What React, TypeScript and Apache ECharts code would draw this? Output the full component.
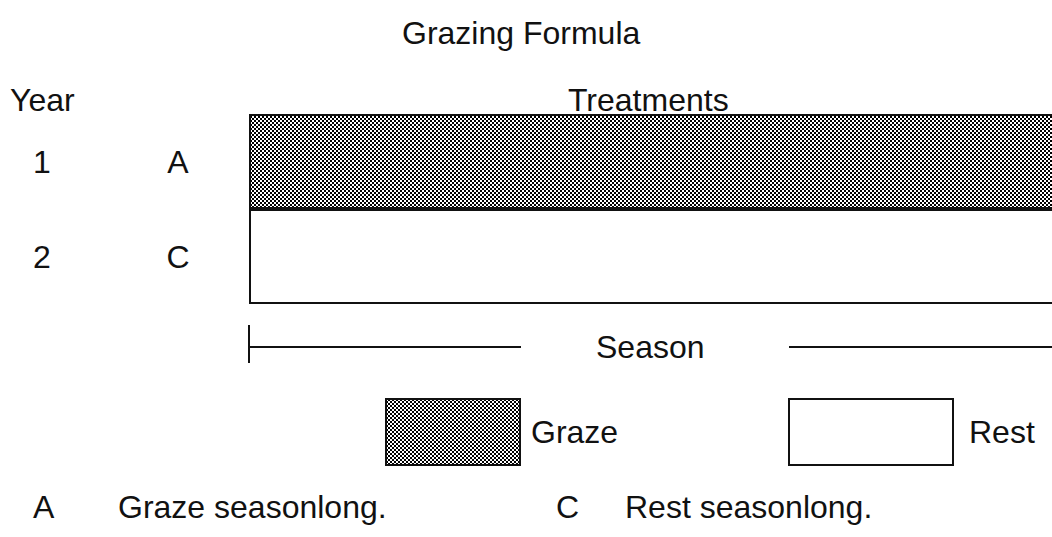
import React, { useEffect, useRef } from "react";
import * as echarts from "echarts";

const years = ["1", "2"];
const treatments = ["A", "C"];
const grazeValues: (number | string)[] = [1, "-"];
const restValues: (number | string)[] = ["-", 1];
const seasonMin = 0;
const seasonMax = 1;
const notesLeft = ["A", "Graze seasonlong."];
const notesRight = ["C", "Rest seasonlong."];

const FONT = "Liberation Sans, Arial, Helvetica, sans-serif";
const INK = "#111";

const grazeDecal = {
  symbol: "rect",
  symbolSize: 1,
  color: "#000",
  dashArrayX: [[1.5, 1.5], [0, 1.5, 1.5, 0]],
  dashArrayY: [1.5, 0],
};

export default function App() {
  const ref = useRef<HTMLDivElement>(null);
  useEffect(() => {
    document.body.style.margin = "0";
    const chart = echarts.init(ref.current!, null, { renderer: "svg" });
    const txt = { fontFamily: FONT, fontSize: 32, color: INK, fontWeight: "normal" as const };
    chart.setOption({
      animation: false,
      backgroundColor: "#fff",
      title: [
        { text: "Grazing Formula", left: 402, top: 17, padding: 0, textStyle: txt },
        { text: "Year", left: 10, top: 84, padding: 0, textStyle: txt },
        { text: "Treatments", left: 568, top: 84, padding: 0, textStyle: txt },
      ],
      grid: { left: 249, right: 0, top: 114, height: 190, containLabel: false },
      xAxis: [
        {
          type: "value",
          min: seasonMin,
          max: seasonMax,
          interval: 1,
          position: "bottom",
          offset: 43,
          splitLine: { show: false },
          axisLabel: { show: false },
          axisLine: { show: true, lineStyle: { color: INK, width: 2 } },
          axisTick: { show: true, length: 16, lineStyle: { color: INK, width: 2 } },
        },
        {
          type: "value",
          min: seasonMin,
          max: seasonMax,
          interval: 1,
          position: "bottom",
          offset: 43,
          splitLine: { show: false },
          axisLabel: { show: false },
          axisLine: { show: false },
          axisTick: { show: true, inside: true, length: 22, lineStyle: { color: INK, width: 2 } },
        },
      ],
      yAxis: [
        {
          type: "category",
          data: treatments,
          inverse: true,
          axisLine: { show: false },
          axisTick: { show: false },
          axisLabel: { ...txt, align: "center", margin: 71 },
        },
        {
          type: "category",
          data: years,
          inverse: true,
          position: "left",
          axisLine: { show: false },
          axisTick: { show: false },
          axisLabel: { ...txt, align: "center", margin: 207 },
        },
      ],
      legend: [
        {
          data: ["Graze"],
          left: 385,
          top: 398,
          padding: 0,
          icon: "rect",
          itemWidth: 134,
          itemHeight: 66,
          selectedMode: false,
          textStyle: { ...txt, padding: [0, 0, 0, 6] },
        },
        {
          data: ["Rest"],
          left: 788,
          top: 398,
          padding: 0,
          icon: "rect",
          itemWidth: 164,
          itemHeight: 66,
          selectedMode: false,
          textStyle: { ...txt, padding: [0, 0, 0, 11] },
        },
      ],
      series: [
        {
          name: "Graze",
          type: "bar",
          xAxisIndex: 0,
          yAxisIndex: 0,
          data: grazeValues,
          barCategoryGap: 0,
          barGap: "-100%",
          itemStyle: { color: "#ffffff", borderColor: INK, borderWidth: 2, decal: grazeDecal },
        },
        {
          name: "Rest",
          type: "bar",
          xAxisIndex: 0,
          yAxisIndex: 0,
          data: restValues,
          barCategoryGap: 0,
          barGap: "-100%",
          itemStyle: { color: "#ffffff", borderColor: INK, borderWidth: 2 },
        },
      ],
      graphic: [
        { type: "rect", z: 100, shape: { x: 521, y: 330, width: 268, height: 34 }, style: { fill: "#fff" } },
        { type: "text", z: 101, left: 596, top: 331, style: { text: "Season", font: `32px ${FONT}`, fill: INK } },
        { type: "text", left: 33, top: 491, style: { text: notesLeft[0], font: `32px ${FONT}`, fill: INK } },
        { type: "text", left: 118, top: 491, style: { text: notesLeft[1], font: `32px ${FONT}`, fill: INK } },
        { type: "text", left: 556, top: 491, style: { text: notesRight[0], font: `32px ${FONT}`, fill: INK } },
        { type: "text", left: 625, top: 491, style: { text: notesRight[1], font: `32px ${FONT}`, fill: INK } },
      ],
    });
    return () => chart.dispose();
  }, []);
  return (
    <div style={{ width: 1052, height: 537, position: "absolute", left: 0, top: 0, overflow: "hidden" }}>
      <div ref={ref} style={{ width: 1080, height: 537 }} />
    </div>
  );
}
